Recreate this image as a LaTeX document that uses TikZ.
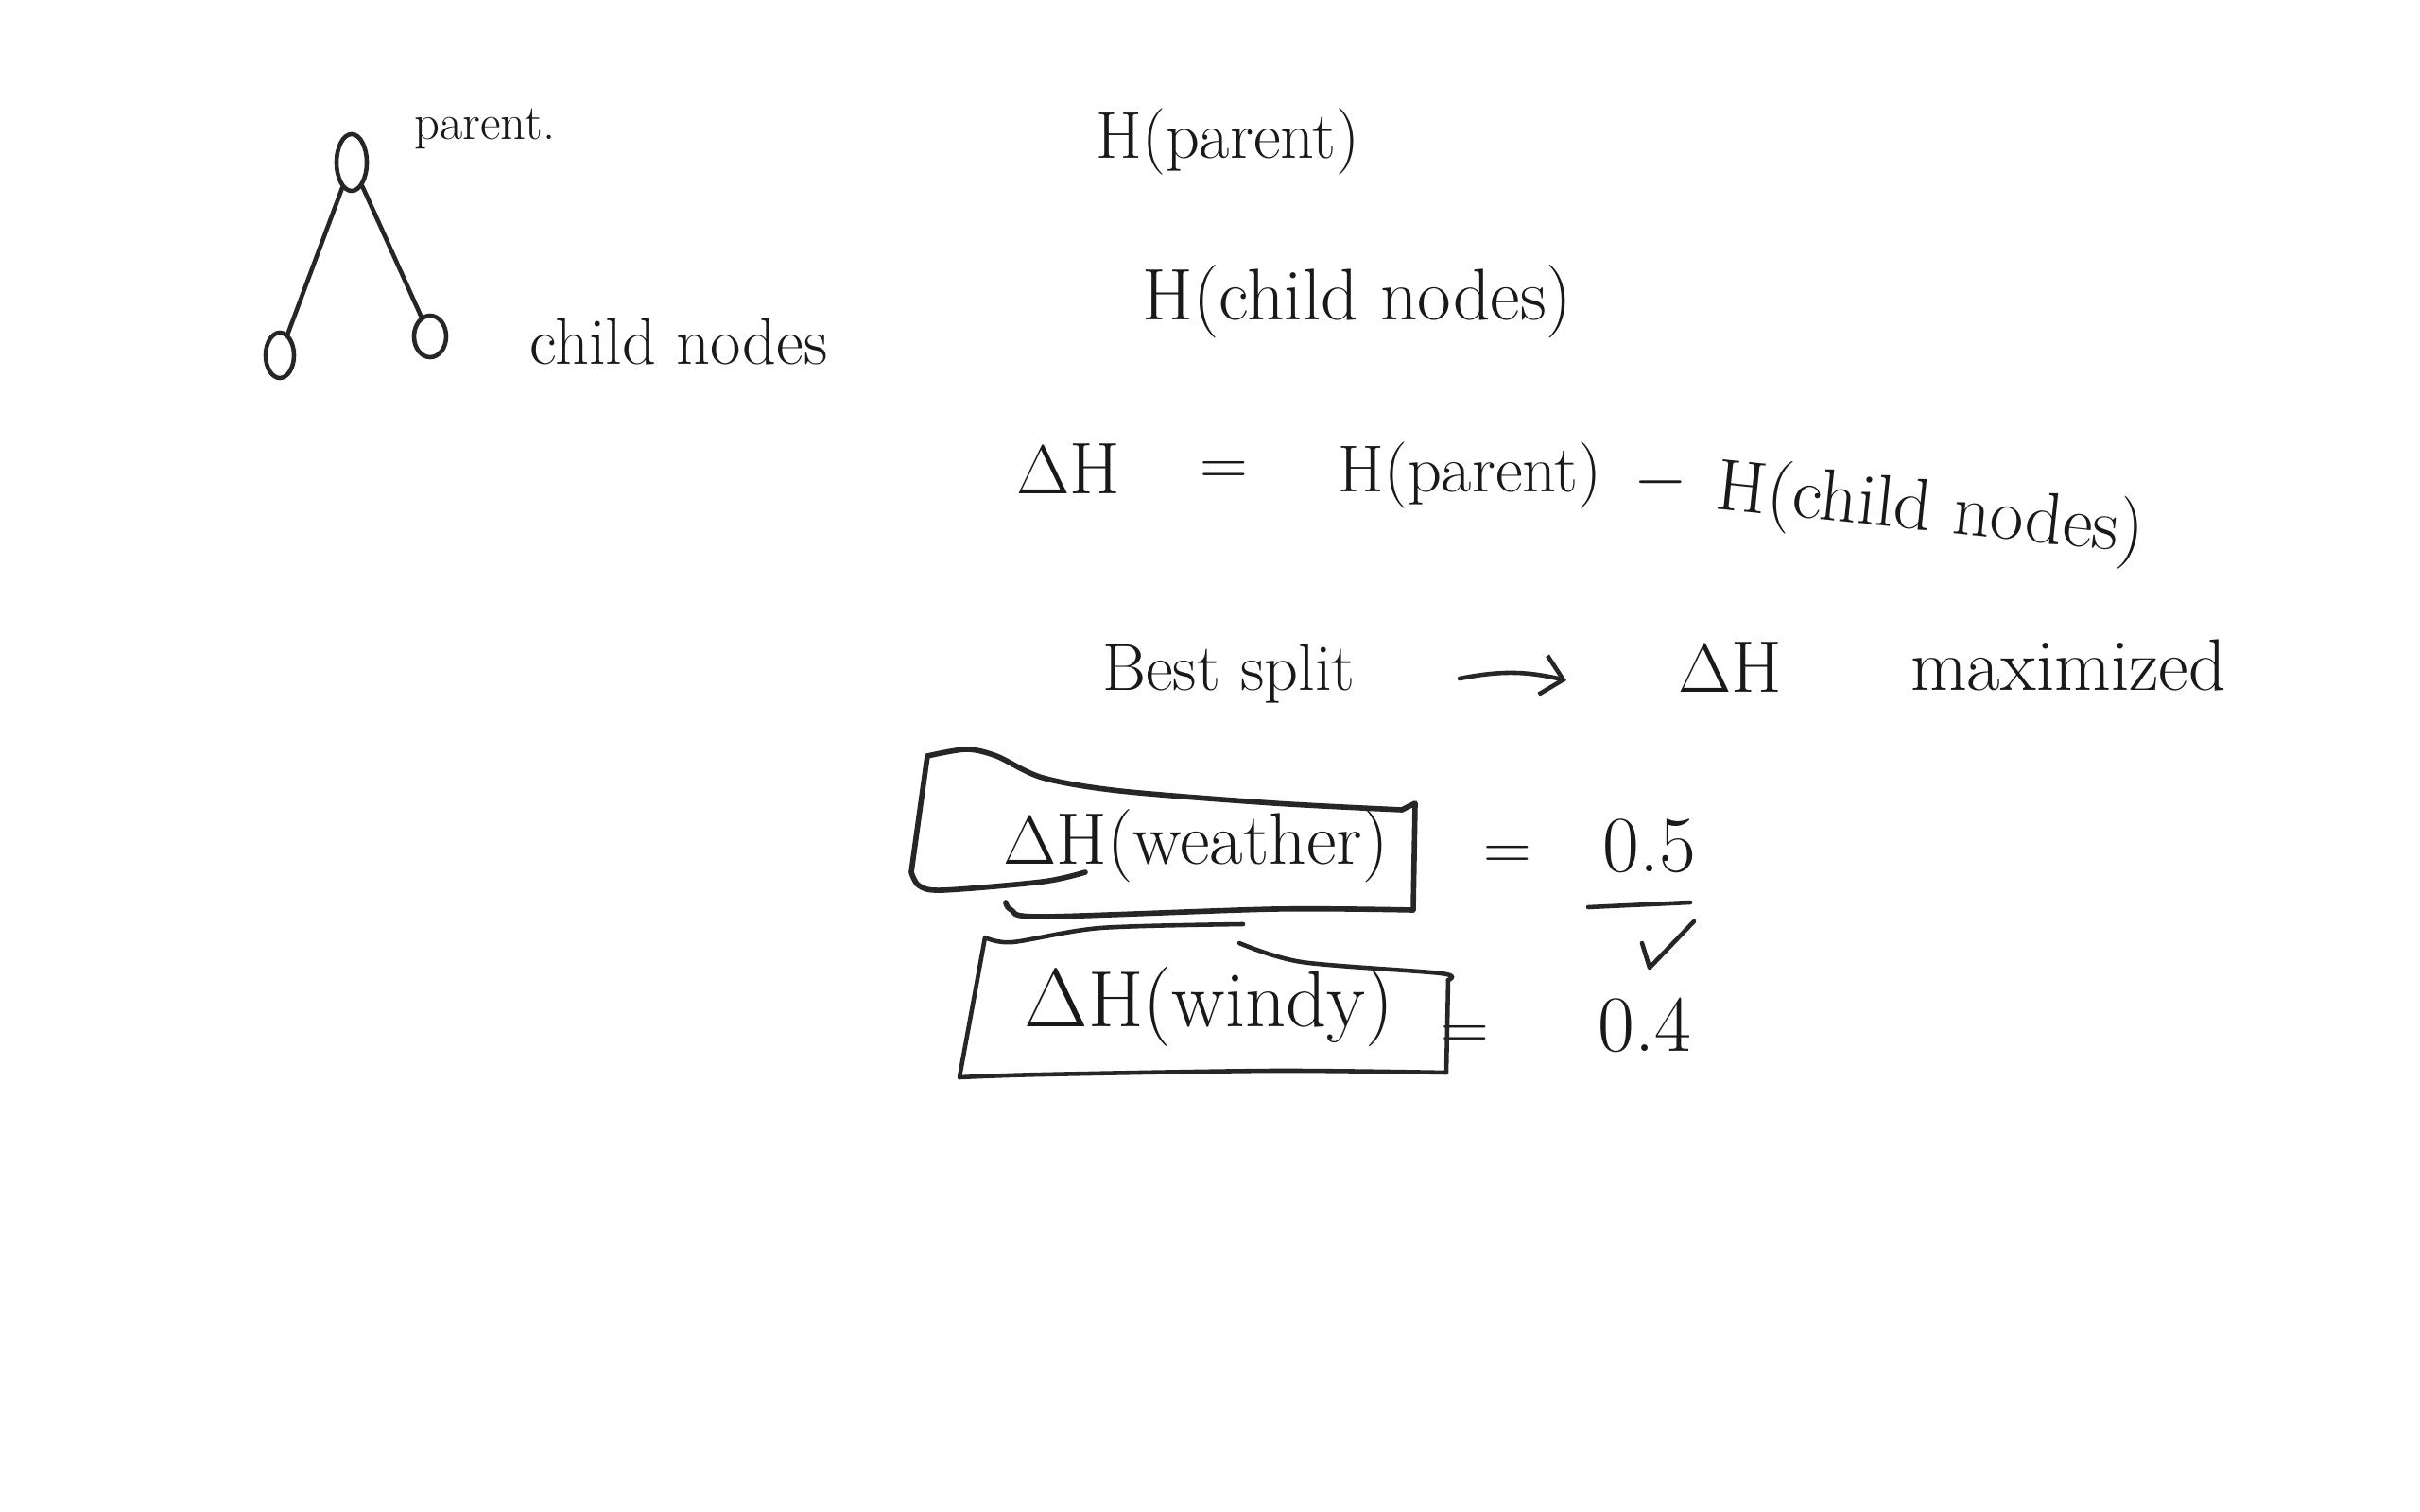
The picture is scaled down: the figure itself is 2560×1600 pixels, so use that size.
\documentclass[tikz,border=0pt]{standalone}
\usetikzlibrary{shapes.geometric,arrows.meta}
\begin{document}
\begin{tikzpicture}[x=0.01cm,y=-0.01cm,
  ink/.style={draw=black!85, line width=1.3pt, line cap=round, line join=round},
  thick ink/.style={ink, line width=1.6pt},
  txt/.style={anchor=base, inner sep=0pt, font=\fontsize{20}{24}\selectfont, text=black!90},
  bigtxt/.style={txt, font=\fontsize{22}{26}\selectfont},
  hugetxt/.style={txt, font=\fontsize{24}{28}\selectfont},
  smalltxt/.style={txt, font=\fontsize{15}{18}\selectfont},
  tnode/.style={ellipse, ink, inner sep=0pt}]
\useasboundingbox (0,0) rectangle (2560,1600);
\fill[white] (0,0) rectangle (2560,1600);

% tree
\node[tnode, minimum width=0.32cm, minimum height=0.6cm] (p) at (372,172) {};
\node[tnode, minimum width=0.3cm, minimum height=0.48cm] (c1) at (296,376) {};
\node[tnode, minimum width=0.34cm, minimum height=0.44cm] (c2) at (455,356) {};
\draw[ink] (p) -- (c1);
\draw[ink] (p) -- (c2);
\node[smalltxt] (lparent) at (513,148) {parent.};
\node[txt] (lchild) at (718,385) {child nodes};

% entropies
\node[txt] (hp) at (1299,168) {H(parent)};
\node[bigtxt] (hc) at (1436,338) {H(child nodes)};

% information gain
\node[bigtxt] (dh) at (1130,522) {$\Delta$H};
\node[txt] (eq1) at (1295,513) {=};
\node[txt] (hp2) at (1555,520) {H(parent)};
\node[txt] (minus) at (1757,528) {$-$};
\node[bigtxt, rotate=-6] (hc2) at (2040,562) {H(child nodes)};

% best split
\node[txt] (bs) at (1300,730) {Best split};
\coordinate (a1) at (1544,718);
\coordinate (a2) at (1657,720);
\draw[ink, -{Straight Barb[length=0.22cm, width=0.42cm]}] (a1) to[bend left=12] (a2);
\node[bigtxt] (dh2) at (1830,732) {$\Delta$H};
\node[bigtxt] (mx) at (2188,730) {maximized};

% weather
\node[bigtxt] (w) at (1265,914) {$\Delta$H(weather)};
\node[txt] (eq2) at (1595,920) {=};
\node[hugetxt] (v1) at (1745,922) {0.5};
\draw[ink] (1680,960) -- (1788,955);
\draw[ink] (1737,998) -- (1745,1024) -- (1792,975);
\draw[thick ink] plot[smooth, tension=0.5] coordinates {(981,800) (1022,793) (1054,800) (1103,823) (1185,837) (1348,850) (1483,857)}
  -- (1497,850) -- (1495,963)
  -- plot[smooth, tension=0.5] coordinates {(1495,963) (1348,962) (1103,970) (1070,963) (1064,955)};
\draw[thick ink] (981,800) -- (964,923)
  -- plot[smooth, tension=0.5] coordinates {(964,923) (972,937) (997,942) (1103,933) (1148,923)};

% windy
\node[hugetxt] (wd) at (1279,1086) {$\Delta$H(windy)};
\node[txt] (eq3) at (1550,1110) {=};
\node[hugetxt] (v2) at (1740,1112) {0.4};
\draw[ink] plot[smooth, tension=0.5] coordinates {(1315,978) (1164,982) (1071,997) (1042,992)}
  -- (1015,1140)
  -- plot[smooth, tension=0.5] coordinates {(1015,1140) (1103,1137) (1348,1133) (1530,1135)}
  -- (1532,1037);
\draw[ink] plot[smooth, tension=0.5] coordinates {(1311,998) (1377,1018) (1524,1030) (1532,1037)};
\end{tikzpicture}
\end{document}
